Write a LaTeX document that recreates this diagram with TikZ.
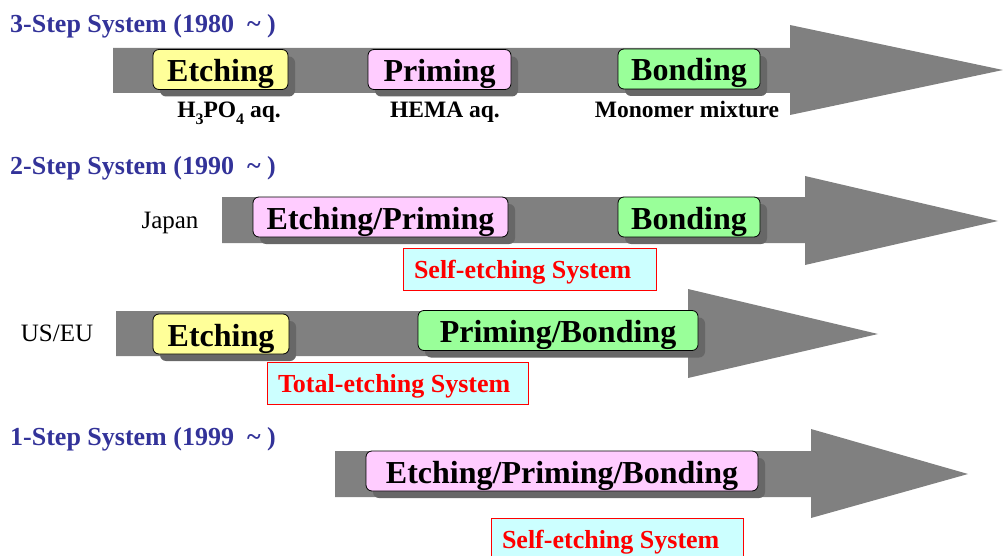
\documentclass[tikz,border=0pt]{standalone}
\usepackage{fontspec}
\setmainfont{Liberation Serif}
\usetikzlibrary{shadows}
\definecolor{arrowgray}{HTML}{808080}
\definecolor{shd}{HTML}{676767}
\definecolor{titleblue}{HTML}{333399}
\definecolor{yel}{HTML}{FFFF99}
\definecolor{pnk}{HTML}{FFCCFF}
\definecolor{grn}{HTML}{99FF99}
\definecolor{cyn}{HTML}{CCFFFF}
\begin{document}
\begin{tikzpicture}[x=1pt,y=-1pt,
  arrowshape/.style={fill=arrowgray, draw=none},
  stepbox/.style={draw=black, line width=0.8pt, rounded corners=6pt, inner sep=0pt,
    minimum height=40pt, text height=24pt, text depth=0pt,
    font=\fontsize{32}{36}\selectfont\bfseries,
    general shadow={fill=shd, draw=none, shadow xshift=7pt, shadow yshift=-7pt}},
  sysbox/.style={draw=red, line width=0.8pt, fill=cyn, text=red, inner xsep=11pt, inner ysep=0pt,
    minimum height=42pt, text height=18pt, text depth=0pt,
    font=\fontsize{26}{30}\selectfont\bfseries},
  systitle/.style={anchor=base west, text=titleblue, inner sep=0pt, font=\fontsize{26}{30}\selectfont\bfseries},
  sublabel/.style={anchor=base, inner sep=0pt, font=\fontsize{23.5}{26}\selectfont\bfseries},
  region/.style={anchor=base, inner sep=0pt, font=\fontsize{25}{28}\selectfont}
]
\useasboundingbox (0,0) rectangle (1003,556);

% ---------- titles
\node[systitle] (t1) at (10,33) {3-Step System (1980\ \ \textasciitilde\ )};
\node[systitle] (t2) at (10,175) {2-Step System (1990\ \ \textasciitilde\ )};
\node[systitle] (t3) at (10,445) {1-Step System (1999\ \ \textasciitilde\ )};

% ---------- big arrows
\fill[arrowshape] (113,48) -- (790,48) -- (790,25) -- (1003,70) -- (790,115) -- (790,93) -- (113,93) -- cycle;
\fill[arrowshape] (222,197) -- (805,197) -- (805,176) -- (998,221) -- (805,265) -- (805,243) -- (222,243) -- cycle;
\fill[arrowshape] (116,311) -- (688,311) -- (688,289) -- (878,334) -- (688,378) -- (688,356) -- (116,356) -- cycle;
\fill[arrowshape] (335,451) -- (811,451) -- (811,429) -- (968,474) -- (811,518) -- (811,497) -- (335,497) -- cycle;

% ---------- row 1 : 3-step
\node[stepbox, fill=yel, minimum width=135pt] (etch1) at (220.5,69.5) {Etching};
\node[stepbox, fill=pnk, minimum width=143pt] (prim1) at (439.5,69.5) {Priming};
\node[stepbox, fill=grn, minimum width=142pt] (bond1) at (689,69) {Bonding};
\node[sublabel] (lab1) at (229,118) {H\raisebox{-0.28em}{\fontsize{16}{16}\selectfont 3}PO\raisebox{-0.28em}{\fontsize{16}{16}\selectfont 4} aq.};
\node[sublabel] (lab2) at (445,118) {HEMA aq.};
\node[sublabel] (lab3) at (687,118) {Monomer mixture};

% ---------- row 2 : Japan
\node[region] (jp) at (170,228) {Japan};
\node[stepbox, fill=pnk, minimum width=255pt] (ep2) at (380.5,217) {Etching/Priming};
\node[stepbox, fill=grn, minimum width=142pt] (bond2) at (689,217) {Bonding};
\node[sysbox] (self2) at (529.5,269) {\makebox[231pt][l]{Self-etching System}};

% ---------- row 3 : US/EU
\node[region] (us) at (57,341) {US/EU};
\node[stepbox, fill=yel, minimum width=136pt] (etch3) at (221,334) {Etching};
\node[stepbox, fill=grn, minimum width=280pt] (pb3) at (558,330.5) {Priming/Bonding};
\node[sysbox] (total3) at (397.5,383.5) {\makebox[239pt][l]{Total-etching System}};

% ---------- row 4 : 1-step
\node[stepbox, fill=pnk, minimum width=392pt] (epb4) at (562,471) {Etching/Priming/Bonding};
\node[sysbox] (self4) at (617,539) {\makebox[230pt][l]{Self-etching System}};
\end{tikzpicture}
\end{document}
